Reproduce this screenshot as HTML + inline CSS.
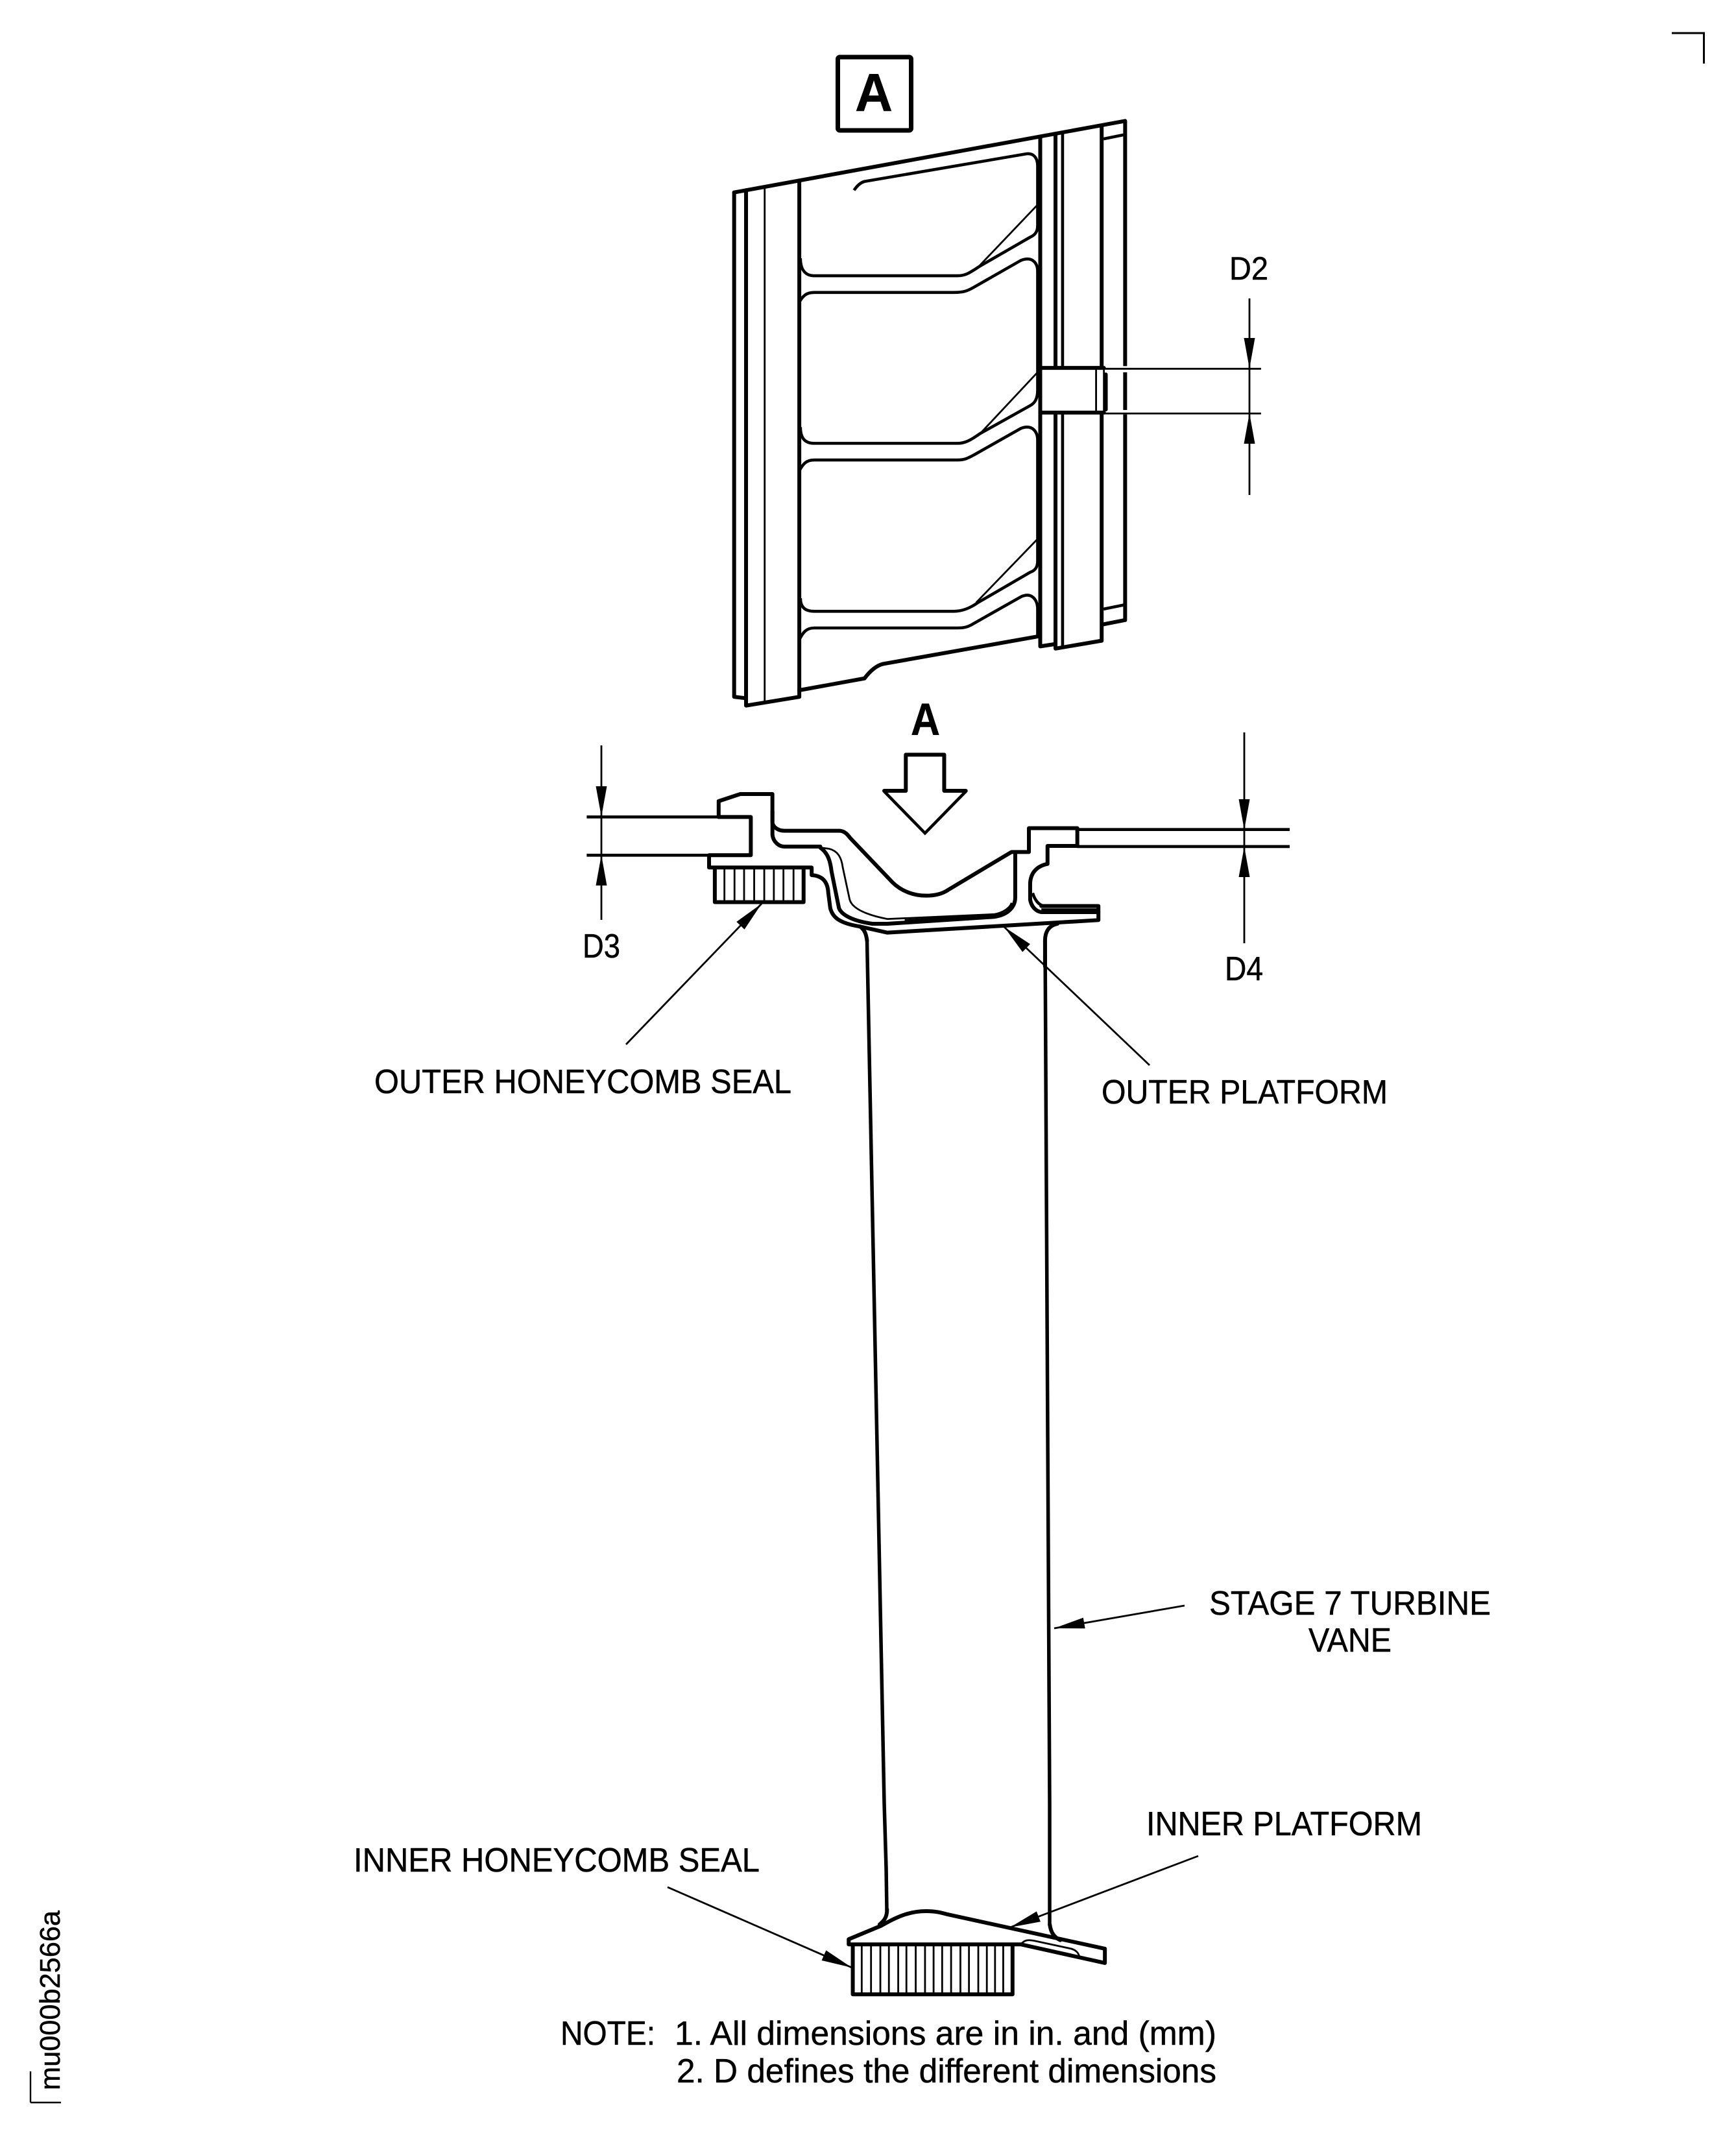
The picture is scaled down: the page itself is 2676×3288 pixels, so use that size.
<!DOCTYPE html>
<html><head><meta charset="utf-8"><style>
html,body{margin:0;padding:0;background:#fff}
svg{display:block}
text{font-family:"Liberation Sans",sans-serif;fill:#000;stroke:#000;stroke-width:.5}
path,line,rect{vector-effect:non-scaling-stroke}
.k{fill:none;stroke:#000;stroke-width:6;stroke-linejoin:round;stroke-linecap:round}
.m{fill:none;stroke:#000;stroke-width:4.6}
.t{fill:none;stroke:#000;stroke-width:2.8}
.w{fill:#fff;stroke:none}
</style></head><body>
<svg xmlns="http://www.w3.org/2000/svg" width="2676" height="3288" viewBox="0 0 2676 3288">
<defs>
<marker id="ar" markerUnits="userSpaceOnUse" markerWidth="50" markerHeight="22" refX="47" refY="11" orient="auto">
<path d="M0,2.5 L47,11 L0,19.5 z" fill="#000"/>
</marker>
</defs>
<rect width="2676" height="3288" fill="#fff"/>

<!-- corner marks -->
<path d="M2577,51 H2626.5 V98" fill="none" stroke="#000" stroke-width="3"/>
<path d="M47,3241 V3193 M47,3241 H94" fill="none" stroke="#000" stroke-width="2.4"/>
<text transform="translate(92 3222) rotate(-90)" font-size="44" textLength="277" lengthAdjust="spacingAndGlyphs">mu000b2566a</text>

<!-- VIEW A -->
<rect x="1291.5" y="88" width="113" height="113" rx="3" fill="none" stroke="#000" stroke-width="7"/>
<text x="1318" y="171" font-size="83" font-weight="bold" textLength="58" lengthAdjust="spacingAndGlyphs">A</text>

<g transform="matrix(0.5740 0 0 0.6761 1080 60)">
  <path class="k" d="M90,350 L1140,187 V1325 L1080,1335"/>
  <path class="k" d="M90,350 V1500 L120,1503"/>
  <path class="k" d="M122,345 V1520 L265,1500 V325"/>
  <path class="t" d="M172,340 V1510"/>
  <path class="k" d="M265,1485 L440,1458 Q465,1430 490,1425 L908,1362"/>
  <path class="k" d="M912,225 V1385 L950,1380"/>
  <path class="k" d="M953,220 V1390 L1077,1372 V200"/>
  <path class="m" d="M972,215 V1388"/>
  <path class="m" d="M1082,228 L1140,218 M1082,1300 L1140,1290"/>
  <!-- panels -->
  <path class="m" d="M412,345 C420,335 428,328 440,325 L875,262 C895,260 905,272 905,290 V425 C905,440 898,447 885,452 L750,518 C720,535 710,540 690,540 H305 C280,540 268,525 268,500"/>
  <path class="m" d="M265,600 C275,585 285,578 305,578 H680 C705,578 715,575 730,568 L860,505 C890,495 905,510 905,530 V800 C905,820 898,830 885,836 L750,900 C725,915 710,922 690,922 H305 C280,922 268,910 268,885"/>
  <path class="m" d="M265,985 C275,968 285,960 305,960 H690 C710,960 720,955 735,948 L860,888 C890,878 905,895 905,915 V1190 C905,1205 898,1212 885,1216 L745,1285 C720,1300 700,1305 680,1305 H305 C280,1305 268,1295 268,1275"/>
  <path class="m" d="M265,1370 C275,1352 285,1343 305,1343 H690 C710,1343 720,1340 735,1332 L860,1272 C890,1260 905,1280 905,1300 V1360"/>
  <path class="t" d="M905,378 L740,525 M905,760 L745,905 M905,1140 L740,1285"/>
  <!-- notch -->
  <rect class="w" x="918" y="752" width="166" height="100"/>
  <rect class="w" x="1130" y="746" width="20" height="14"/>
  <rect class="w" x="1130" y="846" width="20" height="10"/>
  <path class="k" d="M912,750 H1083 M912,852 H1083"/>
  <path class="t" d="M1062,750 V852 M1083,750 V852"/>
  <path class="k" d="M1088,765 V845"/>
  <path class="t" d="M1083,752 H1505 M1083,854 H1505"/>
</g>

<!-- D2 -->
<line class="t" x1="1926" y1="460" x2="1926" y2="568" marker-end="url(#ar)"/>
<line class="t" x1="1926" y1="568" x2="1926" y2="638"/>
<line class="t" x1="1926" y1="763" x2="1926" y2="637" marker-end="url(#ar)"/>
<text x="1895" y="431" font-size="50" textLength="60" lengthAdjust="spacingAndGlyphs">D2</text>

<!-- Section arrow A -->
<text x="1404" y="1133" font-size="70" font-weight="bold" textLength="45" lengthAdjust="spacingAndGlyphs">A</text>
<g transform="matrix(0.7397 0 0 0.3333 860 1100)">
  <path class="k" d="M680,357 H725 V190 H805 V357 H850"/>
  <path class="m" d="M680,360 L765,553 L850,360"/>
  <!-- left hook -->
  <path class="k" d="M335,478 V405 L380,372 H447 V500"/>
  <path class="k" d="M335,478 H402 V655 H315 V712 H528"/>
  <!-- seal upper -->
  <path class="k" d="M327,718 V872 H512 V718"/>
  <path class="t" d="M347,718 V870 M368,718 V870 M388,718 V870 M409,718 V870 M430,718 V870 M450,718 V870 M470,718 V870 M491,718 V870"/>
  <!-- extension lines -->
  <path class="m" d="M60,478 H335 M60,655 H315 M1082,536 H1525 M1082,615 H1525"/>
</g>
<g transform="matrix(0.3827 0 0 0.3333 1100 1250)">
  <path class="k" d="M237,0 V55 C240,75 260,92 285,92 H510 C530,95 540,110 550,125 L720,330 C760,375 810,392 855,392 C890,392 920,385 945,365 L1200,190 H1270 V80 H1465 V162 H1345 V245 C1300,255 1275,290 1275,340 V410 C1280,445 1300,465 1320,468 H1550"/>
  <path class="k" d="M237,55 V110 C240,145 265,165 285,165 H430"/>
  <path class="k" d="M430,170 C460,195 470,230 475,280 L505,450 C515,480 560,510 640,522 H700 L1130,490 C1190,480 1215,440 1215,400 V195"/>
  <path class="t" d="M430,170 L465,175 C500,185 515,215 520,260 L548,410 C555,440 590,475 700,500 L1130,478 C1170,470 1195,445 1200,425"/>
  <path class="m" d="M770,508 L1130,484"/>
  <path class="k" d="M395,262 V297 C440,300 460,330 462,380 L470,450 C480,495 510,520 590,535 L700,563 L1550,505 V440 H1320"/>
  <path class="m" d="M1285,380 C1295,415 1310,435 1330,440"/>
  <path class="t" d="M1320,455 H1545"/>
  <path class="k" d="M590,535 C610,550 615,575 618,600"/>
  <path class="k" d="M1385,522 C1350,530 1335,560 1335,600 V720"/>
</g>

<!-- vane edges -->
<path class="m" style="stroke-width:5.5" d="M1336.5,1450 L1363,2780 L1366,2880 L1367,2945"/>
<path class="m" style="stroke-width:5.5" d="M1611,1450 L1618,2780 V2968"/>

<!-- D3 / D4 -->
<line class="t" x1="927" y1="1149" x2="927" y2="1259" marker-end="url(#ar)"/>
<line class="t" x1="927" y1="1259" x2="927" y2="1318"/>
<line class="t" x1="927" y1="1418" x2="927" y2="1318" marker-end="url(#ar)"/>
<line class="t" x1="1918" y1="1129" x2="1918" y2="1279" marker-end="url(#ar)"/>
<line class="t" x1="1918" y1="1279" x2="1918" y2="1305"/>
<line class="t" x1="1918" y1="1454" x2="1918" y2="1305" marker-end="url(#ar)"/>
<text x="898" y="1476" font-size="52" textLength="58" lengthAdjust="spacingAndGlyphs">D3</text>
<text x="1888" y="1511" font-size="52" textLength="59" lengthAdjust="spacingAndGlyphs">D4</text>

<!-- leaders -->
<line class="t" x1="965" y1="1610" x2="1174" y2="1393" marker-end="url(#ar)"/>
<line class="t" x1="1772" y1="1642" x2="1548" y2="1429" marker-end="url(#ar)"/>
<line class="t" x1="1826" y1="2475" x2="1625" y2="2510" marker-end="url(#ar)"/>
<line class="t" x1="1847" y1="2861" x2="1557" y2="2971" marker-end="url(#ar)"/>
<line class="t" x1="1029" y1="2909" x2="1313" y2="3033" marker-end="url(#ar)"/>

<!-- inner platform and seal -->
<g transform="matrix(0.574 0 0 0.3333 1000 2780)">
  <path class="k" d="M640,490 C640,530 630,545 620,560"/>
  <path class="k" d="M1077,560 C1080,600 1090,620 1105,632"/>
  <path class="k" d="M537,650 V628 L625,565 C665,525 700,498 745,498 C770,498 785,505 800,512 L1225,672 V738 L1000,652 H537"/>
  <path class="k" d="M548,655 V883 H977 V655"/>
  <path class="t" d="M572,655 V880 M597,655 V880 M622,655 V880 M645,655 V880 M670,655 V880 M692,655 V880 M717,655 V880 M742,655 V880 M765,655 V880 M788,655 V880 M812,655 V880 M837,655 V880 M860,655 V880 M885,655 V880 M908,655 V880 M930,655 V880 M952,655 V880"/>
  <path class="t" d="M1000,650 C1010,630 1020,630 1035,635 L1135,672 C1150,680 1155,695 1157,712"/>
</g>

<!-- labels -->
<text x="577" y="1685" font-size="52" textLength="643" lengthAdjust="spacingAndGlyphs">OUTER HONEYCOMB SEAL</text>
<text x="1698" y="1701" font-size="52" textLength="441" lengthAdjust="spacingAndGlyphs">OUTER PLATFORM</text>
<text x="1864" y="2489" font-size="52" textLength="434" lengthAdjust="spacingAndGlyphs">STAGE 7 TURBINE</text>
<text x="2017" y="2546" font-size="52" textLength="128" lengthAdjust="spacingAndGlyphs">VANE</text>
<text x="1767" y="2829" font-size="52" textLength="425" lengthAdjust="spacingAndGlyphs">INNER PLATFORM</text>
<text x="545" y="2885" font-size="52" textLength="626" lengthAdjust="spacingAndGlyphs">INNER HONEYCOMB SEAL</text>
<text x="864" y="3152" font-size="52" textLength="146" lengthAdjust="spacingAndGlyphs">NOTE:</text>
<text x="1040" y="3152" font-size="52" textLength="835" lengthAdjust="spacingAndGlyphs">1. All dimensions are in in. and (mm)</text>
<text x="1043" y="3210" font-size="52" textLength="832" lengthAdjust="spacingAndGlyphs">2. D defines the different dimensions</text>
</svg>
</body></html>
